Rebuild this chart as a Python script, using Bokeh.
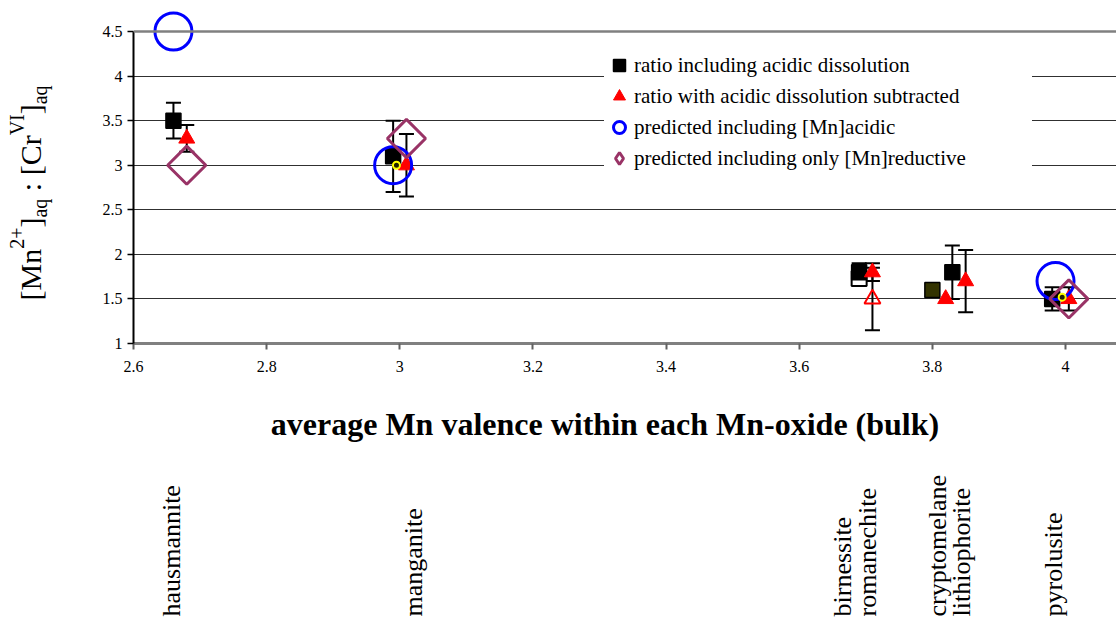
from math import pi

from bokeh.embed import file_html
from bokeh.layouts import column, row
from bokeh.models import (ColumnDataSource, CustomJSTickFormatter, FixedTicker,
                          Legend, LegendItem, Range1d, Span, TeeHead, Whisker)
from bokeh.plotting import figure
from bokeh.resources import INLINE

SERIF = "Liberation Serif"
NBSP = "\u00a0"

# ratio including acidic dissolution (filled squares)
RATIO_X = [2.66, 2.99, 3.69, 3.80, 3.83, 3.98]
RATIO_Y = [3.5, 3.1, 1.8, 1.6, 1.8, 1.5]
RATIO_ERR = [0.2, 0.4, 0.1, 0.0, 0.3, 0.13]
RATIO_FILL = ["#000000", "#000000", "#000000", "#333300", "#000000", "#000000"]

# ratio with acidic dissolution subtracted (filled triangles)
SUB_X = [2.68, 3.01, 3.71, 3.82, 3.85, 4.005]
SUB_Y = [3.3, 3.0, 1.8, 1.5, 1.7, 1.5]
SUB_ERR = [0.15, 0.35, 0.1, 0.0, 0.35, 0.13]

# second birnessite sample (open markers)
ALT_RATIO_X = [3.69]
ALT_RATIO_Y = [1.73]
ALT_SUB_X = [3.71]
ALT_SUB_Y = [1.5]
ALT_SUB_ERR = [0.35]

# predicted ratios
PRED_ACID_X = [2.66, 2.99, 3.985]
PRED_ACID_Y = [4.5, 3.0, 1.7]
PRED_RED_X = [2.68, 3.01, 4.005]
PRED_RED_Y = [3.0, 3.3, 1.5]

# stoichiometric reference points
STOICH_X = [2.995, 3.995]
STOICH_Y = [3.0, 1.52]

MINERALS = ["hausmannite", "manganite", "birnessite", "romanechite",
            "cryptomelane", "lithiophorite", "pyrolusite"]
MINERAL_VALENCE = [2.67, 3.0, 3.7, 3.7, 3.8, 3.8, 4.0]

X_TICKS = [2.6, 2.8, 3.0, 3.2, 3.4, 3.6, 3.8, 4.0]
Y_TICKS = [1.0, 1.5, 2.0, 2.5, 3.0, 3.5, 4.0, 4.5]

X_LABEL = "average Mn valence within each Mn-oxide (bulk)"
LEGEND_LABELS = ["ratio including acidic dissolution",
                 "ratio with acidic dissolution subtracted",
                 "predicted including [Mn]acidic",
                 "predicted including only [Mn]reductive"]

BORDER_TOP, BORDER_BOTTOM, PLOT_H = 5, 107, 450

# ---------------------------------------------------------------- main plot
p = figure(width=1056, height=PLOT_H, output_backend="svg", toolbar_location=None,
           x_range=Range1d(2.6, 4.0766), y_range=Range1d(1.0, 4.7917),
           min_border_left=73, min_border_right=0, min_border_top=BORDER_TOP,
           min_border_bottom=BORDER_BOTTOM)
p.outline_line_color = None
p.background_fill_color = "white"
p.border_fill_color = "white"

for ax, ticks in ((p.xaxis[0], X_TICKS), (p.yaxis[0], Y_TICKS)):
    ax.ticker = FixedTicker(ticks=ticks)
    ax.formatter = CustomJSTickFormatter(code="return String(Math.round(tick * 10) / 10)")
    ax.major_label_text_font = SERIF
    ax.major_label_text_font_size = "16px"
    ax.major_label_text_color = "black"
    ax.minor_tick_line_color = None
    ax.major_tick_in = 0
    ax.major_tick_out = 6

p.xaxis.axis_line_color = "#808080"
p.xaxis.axis_line_width = 3
p.xaxis.major_tick_line_color = "#606060"
p.xaxis.major_tick_line_width = 2
p.xaxis.major_label_standoff = 11
# trailing no-break spaces nudge the centred title a little to the left
p.xaxis.axis_label = X_LABEL + NBSP * 5
p.xaxis.axis_label_text_font = SERIF
p.xaxis.axis_label_text_font_style = "bold"
p.xaxis.axis_label_text_font_size = "32px"
p.xaxis.axis_label_text_color = "black"
p.xaxis.axis_label_standoff = 31

p.yaxis.bounds = (Y_TICKS[0], Y_TICKS[-1])
p.yaxis.axis_line_color = "black"
p.yaxis.axis_line_width = 2
p.yaxis.major_tick_line_color = "black"
p.yaxis.major_tick_line_width = 1.5
p.yaxis.major_label_standoff = 5

p.xgrid.visible = False
p.ygrid.ticker = FixedTicker(ticks=Y_TICKS[1:-1])
p.ygrid.grid_line_color = "#303030"
p.ygrid.grid_line_width = 1

# plot-area top edge
p.add_layout(Span(location=Y_TICKS[-1], dimension="width",
                  line_color="#808080", line_width=2.5))


def whiskers(xs, ys, errs):
    keep = [i for i, e in enumerate(errs) if e > 0]
    src = ColumnDataSource(dict(
        x=[xs[i] for i in keep],
        upper=[ys[i] + errs[i] for i in keep],
        lower=[ys[i] - errs[i] for i in keep]))
    head = dict(size=15, line_color="black", line_width=2)
    p.add_layout(Whisker(source=src, base="x", upper="upper", lower="lower",
                         dimension="height", line_color="black", line_width=2,
                         upper_head=TeeHead(**head), lower_head=TeeHead(**head)))


whiskers(RATIO_X, RATIO_Y, RATIO_ERR)
whiskers(SUB_X, SUB_Y, SUB_ERR)
whiskers(ALT_SUB_X, ALT_SUB_Y, ALT_SUB_ERR)

p.scatter(ALT_RATIO_X, ALT_RATIO_Y, marker="square", size=15,
          fill_color="white", line_color="black", line_width=2)
r_ratio = p.scatter("x", "y", marker="square", size=15, line_color="black",
                    line_width=1.5, fill_color="fill",
                    source=ColumnDataSource(dict(x=RATIO_X, y=RATIO_Y, fill=RATIO_FILL)))
p.scatter(ALT_SUB_X, ALT_SUB_Y, marker="triangle", size=16,
          fill_color=None, line_color="#FF0000", line_width=2)
r_sub = p.scatter(SUB_X, SUB_Y, marker="triangle", size=16,
                  fill_color="#FF0000", line_color="#FF0000", line_width=1)
r_acid = p.scatter(PRED_ACID_X, PRED_ACID_Y, marker="circle", size=37,
                   fill_color=None, line_color="#0000FF", line_width=3)
p.scatter(PRED_RED_X, PRED_RED_Y, marker="square", angle=pi / 4, size=27,
          fill_color=None, line_color="#993366", line_width=3)
# legend swatch for the predicted (reductive) series
r_red_key = p.scatter(PRED_RED_X, PRED_RED_Y, marker="diamond", size=27,
                      fill_color=None, line_color="#993366", line_width=3,
                      visible=False)
p.scatter(STOICH_X, STOICH_Y, marker="circle", size=7,
          fill_color="#202000", line_color="#FFFF00", line_width=2)

legend = Legend(
    items=[LegendItem(label=t, renderers=[r])
           for t, r in zip(LEGEND_LABELS, [r_ratio, r_sub, r_acid, r_red_key])],
    location=(471, 170), glyph_width=30, glyph_height=30, label_standoff=0,
    spacing=1, padding=5, margin=0, border_line_color=None,
    background_fill_color="white", background_fill_alpha=1.0,
    label_text_font=SERIF, label_text_font_size="21px", label_text_color="black",
    label_width=398)
p.add_layout(legend)

# ---------------------------------------------------------------- y-axis title
# pixel coordinates measured upward from the bottom of the 450 px strip
ylab = figure(width=60, height=PLOT_H, output_backend="svg", toolbar_location=None,
              x_range=Range1d(0, 60), y_range=Range1d(BORDER_BOTTOM, PLOT_H - BORDER_TOP),
              x_axis_location=None, y_axis_location=None,
              min_border_left=0, min_border_right=0, min_border_top=BORDER_TOP,
              min_border_bottom=BORDER_BOTTOM)
ylab.grid.visible = False
ylab.outline_line_color = None
ylab.border_fill_color = "white"

# piecewise title so the super/subscripts sit correctly (Times advance widths)
EM = {"[": 333, "M": 889, "n": 500, "2": 500, "+": 564, "]": 333, "a": 444,
      "q": 500, NBSP: 250, ":": 278, "C": 667, "r": 333, "V": 722, "I": 333}
MAIN_PX, SCRIPT_PX = 30, 20
pieces = [("[Mn", "main"), ("2+", "sup"), ("]", "main"), ("aq", "sub"),
          (NBSP + ":" + NBSP + "[Cr", "main"), ("VI", "sup"), ("]", "main"),
          ("aq", "sub")]
anchor_x = {"main": 30, "sup": 16, "sub": 39}
seg = dict(x=[], y=[], text=[], size=[])
pos = 150.0
for txt, kind in pieces:
    px = MAIN_PX if kind == "main" else SCRIPT_PX
    seg["x"].append(anchor_x[kind])
    seg["y"].append(pos)
    seg["text"].append(txt)
    seg["size"].append(f"{px}px")
    pos += sum(EM[c] for c in txt) / 1000 * px
ylab.text(x="x", y="y", text="text", text_font_size="size",
          source=ColumnDataSource(seg), angle=pi / 2, text_align="left",
          text_baseline="alphabetic", text_font={"value": SERIF},
          text_color="black")

# ---------------------------------------------------------------- mineral names
names = figure(width=1116, height=621 - PLOT_H, output_backend="svg",
               toolbar_location=None, x_range=p.x_range, y_range=Range1d(0, 621 - PLOT_H),
               x_axis_location=None, y_axis_location=None,
               min_border_left=133, min_border_right=0, min_border_top=0,
               min_border_bottom=0)
names.grid.visible = False
names.outline_line_color = None
names.border_fill_color = "white"
name_shift = [-9, 14, -23, 2, 5, 29, -12]
names.text(x=MINERAL_VALENCE, y=[5] * len(MINERALS), text=MINERALS,
           x_offset=name_shift, angle=pi / 2, text_align="left",
           text_baseline="alphabetic", text_font={"value": SERIF},
           text_font_size="26px", text_color="black")

layout = column(row(ylab, p, spacing=0), names, spacing=0)
open("out.html", "w").write(file_html(layout, INLINE))
